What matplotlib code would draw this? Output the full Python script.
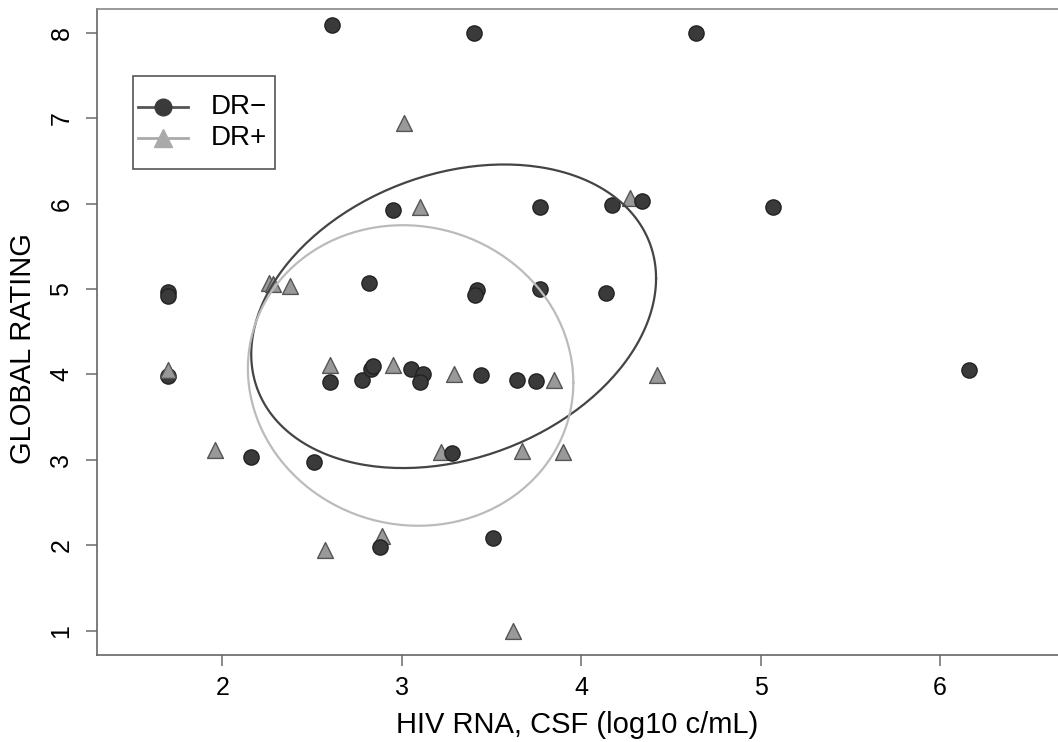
import numpy as np
import matplotlib
matplotlib.use("Agg")
import matplotlib.pyplot as plt
from matplotlib.patches import Rectangle

plt.rcParams["font.family"] = ["Liberation Sans", "DejaVu Sans"]

# DR- (circles)
dr_neg_x = [2.61, 3.40, 4.64, 2.95, 3.77, 4.17, 4.34, 5.07, 1.70, 1.70, 2.82,
            3.42, 3.41, 3.77, 4.14, 6.16, 1.70, 2.60, 2.78, 2.83, 2.84, 3.05,
            3.12, 3.10, 3.44, 3.64, 3.75, 2.16, 2.51, 3.28, 2.88, 3.51]
dr_neg_y = [8.09, 8.00, 8.00, 5.92, 5.96, 5.98, 6.03, 5.96, 4.96, 4.92, 5.07,
            4.99, 4.93, 5.00, 4.95, 4.05, 3.98, 3.91, 3.94, 4.06, 4.10, 4.06,
            4.01, 3.91, 3.99, 3.94, 3.92, 3.03, 2.98, 3.08, 1.98, 2.08]

# DR+ (triangles)
dr_pos_x = [1.70, 1.96, 2.26, 2.28, 2.38, 2.60, 2.95, 3.29, 3.85, 3.22, 3.67,
            3.90, 3.01, 3.10, 4.27, 4.42, 2.57, 2.89, 3.62]
dr_pos_y = [4.05, 3.11, 5.07, 5.06, 5.03, 4.11, 4.11, 4.00, 3.93, 3.09, 3.10,
            3.09, 6.94, 5.96, 6.07, 3.99, 1.94, 2.11, 1.00]

x_ticks = [2, 3, 4, 5, 6]
y_ticks = [1, 2, 3, 4, 5, 6, 7, 8]
labels = ["DR\u2212", "DR+"]
ellipse_level = 0.5


def data_ellipse(x, y, level=0.5, n=240):
    # 50% normal-theory data ellipse from mean and covariance
    pts = np.column_stack([x, y])
    center = pts.mean(axis=0)
    chol = np.linalg.cholesky(np.cov(pts, rowvar=False))
    r = np.sqrt(-2 * np.log(1 - level))
    t = np.linspace(0, 2 * np.pi, n)
    e = center[:, None] + r * chol @ np.vstack([np.cos(t), np.sin(t)])
    return e[0], e[1]


fig = plt.figure(figsize=(10.58, 7.42), dpi=100)
ax = fig.add_axes([97 / 1058, 87 / 742, 961 / 1058, 646 / 742])

tri_style = dict(marker="^", s=130, c="#999999", edgecolors="#555555",
                 linewidths=1)
ax.scatter(dr_pos_x[1:], dr_pos_y[1:], zorder=3, **tri_style)
ax.scatter(dr_neg_x, dr_neg_y, marker="o", s=120, c="#3a3a3a",
           edgecolors="#222222", linewidths=1, zorder=4)
# the leftmost triangle sits on top of its circle in the original
ax.scatter(dr_pos_x[:1], dr_pos_y[:1], zorder=4.5, **tri_style)

ex, ey = data_ellipse(dr_neg_x, dr_neg_y, ellipse_level)
ax.plot(ex, ey, color="#444444", lw=1.6, zorder=5)
ex, ey = data_ellipse(dr_pos_x, dr_pos_y, ellipse_level)
ax.plot(ex, ey, color="#bbbbbb", lw=1.6, zorder=5)

ax.set_xlim(1.302, 6.657)
ax.set_ylim(0.715, 8.278)
ax.set_xticks(x_ticks)
ax.set_yticks(y_ticks)
ax.tick_params(axis="both", direction="out", length=8, width=1.2,
               color="#777777", labelsize=18)
ax.tick_params(axis="x", pad=7)
ax.tick_params(axis="y", pad=9)
for lab in ax.get_yticklabels():
    lab.set_rotation(90)
    lab.set_va("center")

for side in ["left", "bottom", "top"]:
    ax.spines[side].set_color("#666666")
    ax.spines[side].set_linewidth(1.2)
ax.spines["top"].set_color("#888888")
ax.spines["right"].set_visible(False)

ax.set_xlabel("HIV RNA, CSF (log10 c/mL)", fontsize=21, labelpad=8)
ax.set_ylabel("GLOBAL RATING", fontsize=21)
ax.yaxis.set_label_coords(-0.062, 0.475)

# R-style legend box, drawn by hand in axes coordinates
T = ax.transAxes
ax.add_patch(Rectangle((0.0375, 0.7523), 0.1477, 0.144, transform=T,
                       fill=True, facecolor="white", edgecolor="#555555",
                       lw=1.2, zorder=6))
rows = [0.8483, 0.8003]
ax.plot([0.0427, 0.0947], [rows[0]] * 2, transform=T, color="#555555",
        lw=2, zorder=7)
ax.plot([0.0687], [rows[0]], transform=T, marker="o", ms=12, color="#3a3a3a",
        zorder=8)
ax.plot([0.0427, 0.0947], [rows[1]] * 2, transform=T, color="#aaaaaa",
        lw=2, zorder=7)
ax.plot([0.0687], [rows[1]], transform=T, marker="^", ms=13, color="#aaaaaa",
        zorder=8)
for lab, yy in zip(labels, rows):
    ax.text(0.1186, yy, lab, transform=T, fontsize=20, va="center",
            ha="left", zorder=8)

fig.savefig("out.png", dpi=100)
